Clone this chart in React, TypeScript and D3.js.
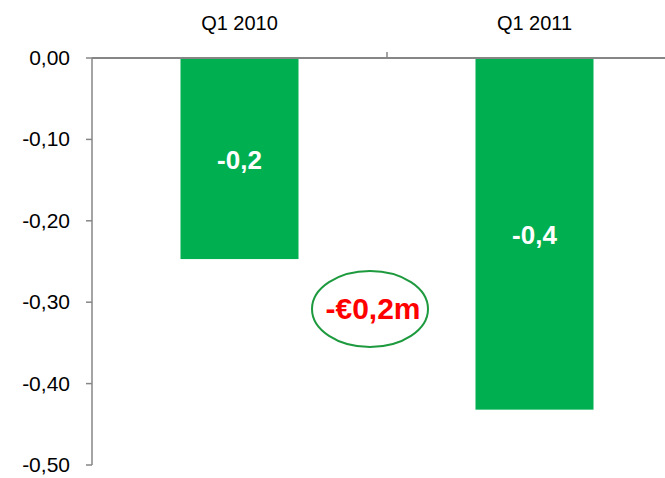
import React from "react";
import * as d3 from "d3";

const categories = ["Q1 2010", "Q1 2011"];
const values = [-0.247, -0.432];
const barLabels = ["-0,2", "-0,4"];
const yTicks = [0, -0.1, -0.2, -0.3, -0.4, -0.5];
const yTickLabels = ["0,00", "-0,10", "-0,20", "-0,30", "-0,40", "-0,50"];
const deltaLabel = "-€0,2m";

const W = 665;
const H = 478;

export default function App() {
  const x = d3
    .scaleBand<string>()
    .domain(categories)
    .range([92, 682])
    .paddingInner(0.6)
    .paddingOuter(0.3);
  const y = d3.scaleLinear().domain([-0.5, 0]).range([465, 58]);
  const step = x.step();
  const font = "'Liberation Sans', Arial, sans-serif";
  const axisColor = "#868686";

  return (
    <svg
      width={W}
      height={H}
      style={{ position: "absolute", left: 0, top: 0, background: "#fff" }}
      fontFamily={font}
    >
      {categories.map((c, i) => (
        <rect
          key={c}
          x={x(c)!}
          y={y(0)}
          width={x.bandwidth()}
          height={y(values[i]) - y(0)}
          fill="#00b050"
        />
      ))}
      {categories.map((c, i) => (
        <text
          key={c + "l"}
          x={x(c)! + x.bandwidth() / 2}
          y={(y(0) + y(values[i])) / 2 + 10}
          textAnchor="middle"
          fill="#fff"
          fontWeight="bold"
          fontSize={26}
        >
          {barLabels[i]}
        </text>
      ))}
      <line x1={92} x2={92} y1={y(0)} y2={y(-0.5)} stroke={axisColor} strokeWidth={1.5} />
      {yTicks.map((t, i) => (
        <g key={t}>
          <line x1={86} x2={92} y1={y(t)} y2={y(t)} stroke={axisColor} strokeWidth={1.5} />
          <text x={70} y={y(t) + 7} textAnchor="end" fontSize={21} fill="#000">
            {yTickLabels[i]}
          </text>
        </g>
      ))}
      <line x1={92} x2={W} y1={y(0)} y2={y(0)} stroke={axisColor} strokeWidth={2} />
      {categories.map((c, i) =>
        i > 0 ? (
          <line
            key={c + "t"}
            x1={x(c)! - (step - x.bandwidth()) / 2}
            x2={x(c)! - (step - x.bandwidth()) / 2}
            y1={y(0) - 6}
            y2={y(0)}
            stroke={axisColor}
            strokeWidth={1.5}
          />
        ) : null
      )}
      {categories.map((c) => (
        <text
          key={c + "c"}
          x={x(c)! + x.bandwidth() / 2}
          y={30}
          textAnchor="middle"
          fontSize={20}
          fill="#000"
        >
          {c}
        </text>
      ))}
      <ellipse cx={370} cy={309} rx={58} ry={38} fill="none" stroke="#1e9a3e" strokeWidth={2} />
      <text
        x={373}
        y={319}
        textAnchor="middle"
        fontSize={30}
        fontWeight="bold"
        fill="#ff0000"
      >
        {deltaLabel}
      </text>
    </svg>
  );
}
